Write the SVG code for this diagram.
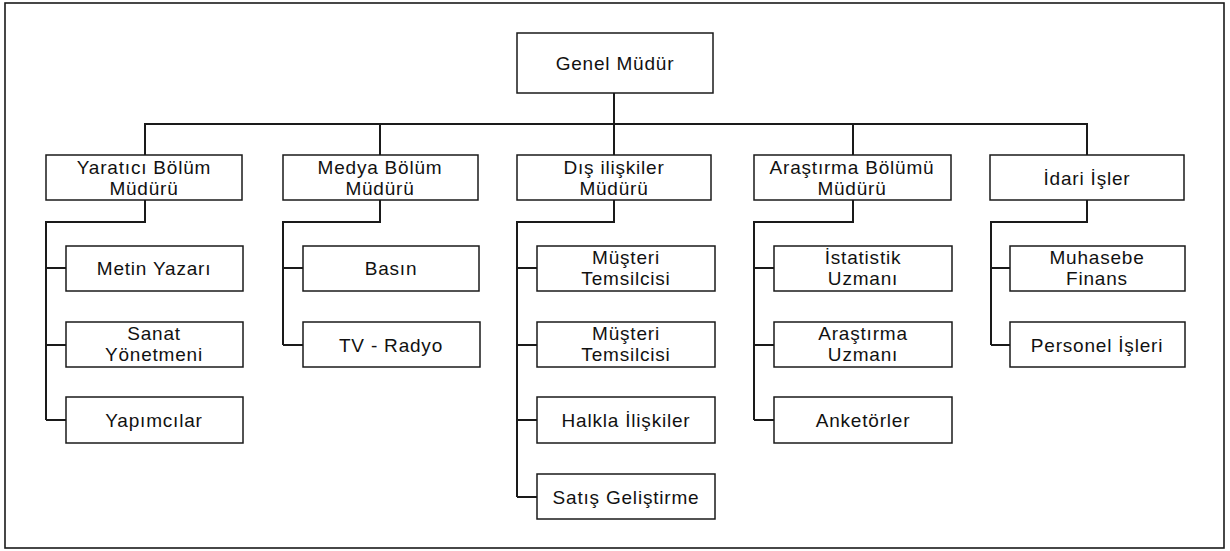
<svg xmlns="http://www.w3.org/2000/svg" width="1230" height="551" viewBox="0 0 1230 551">
<style>
.box{fill:#fff;stroke:#1a1a1a;stroke-width:1.5}
.frame{fill:#fff;stroke:#1a1a1a;stroke-width:1.6}
.con{fill:none;stroke:#1a1a1a;stroke-width:2}
text{font-family:"Liberation Sans","Noto Sans",sans-serif;font-size:19px;letter-spacing:0.8px;fill:#111;text-anchor:middle}
</style>
<rect class="frame" x="5" y="3" width="1219" height="545"/>
<g id="connectors">
<path class="con" d="M614,93V124M145,155V124H1087V155M380,124V155M614,124V155M853,124V155"/>
<path class="con" d="M145,200V222H46V420M46,268H66M46,345H66M46,420H66"/>
<path class="con" d="M380,200V222H283V345M283,268H303M283,345H303"/>
<path class="con" d="M614,200V222H517V497M517,268H537M517,345H537M517,420H537M517,497H537"/>
<path class="con" d="M853,200V222H754V420M754,268H774M754,345H774M754,420H774"/>
<path class="con" d="M1087,200V222H991V345M991,268H1010M991,345H1010"/>
</g>
<g id="genel"><rect class="box" x="517" y="33" width="196" height="60"/><text x="615" y="70">Genel Müdür</text></g>
<g id="yaratici"><rect class="box" x="46" y="155" width="196" height="45"/><text x="144" y="174">Yaratıcı Bölüm</text><text x="144" y="195">Müdürü</text></g>
<g id="medya"><rect class="box" x="283" y="155" width="195" height="45"/><text x="380" y="174">Medya Bölüm</text><text x="380" y="195">Müdürü</text></g>
<g id="dis"><rect class="box" x="517" y="155" width="194" height="45"/><text x="614" y="174">Dış ilişkiler</text><text x="614" y="195">Müdürü</text></g>
<g id="arastirma"><rect class="box" x="754" y="155" width="197" height="45"/><text x="852" y="174">Araştırma Bölümü</text><text x="852" y="195">Müdürü</text></g>
<g id="idari"><rect class="box" x="990" y="155" width="194" height="45"/><text x="1087" y="185">İdari İşler</text></g>
<g id="metin"><rect class="box" x="66" y="246" width="177" height="45"/><text x="154" y="275">Metin Yazarı</text></g>
<g id="sanat"><rect class="box" x="66" y="322" width="177" height="45"/><text x="154" y="340">Sanat</text><text x="154" y="361">Yönetmeni</text></g>
<g id="yapimcilar"><rect class="box" x="66" y="397" width="177" height="46"/><text x="154" y="427">Yapımcılar</text></g>
<g id="basin"><rect class="box" x="303" y="246" width="176" height="45"/><text x="391" y="275">Basın</text></g>
<g id="tv"><rect class="box" x="303" y="322" width="177" height="45"/><text x="391" y="352">TV - Radyo</text></g>
<g id="musteri1"><rect class="box" x="537" y="246" width="178" height="45"/><text x="626" y="264">Müşteri</text><text x="626" y="285">Temsilcisi</text></g>
<g id="musteri2"><rect class="box" x="537" y="322" width="178" height="45"/><text x="626" y="340">Müşteri</text><text x="626" y="361">Temsilcisi</text></g>
<g id="halkla"><rect class="box" x="537" y="397" width="178" height="46"/><text x="626" y="427">Halkla İlişkiler</text></g>
<g id="satis"><rect class="box" x="537" y="474" width="178" height="45"/><text x="626" y="504">Satış Geliştirme</text></g>
<g id="istatistik"><rect class="box" x="774" y="246" width="178" height="45"/><text x="863" y="264">İstatistik</text><text x="863" y="285">Uzmanı</text></g>
<g id="uzman"><rect class="box" x="774" y="322" width="178" height="45"/><text x="863" y="340">Araştırma</text><text x="863" y="361">Uzmanı</text></g>
<g id="anketorler"><rect class="box" x="774" y="397" width="178" height="46"/><text x="863" y="427">Anketörler</text></g>
<g id="muhasebe"><rect class="box" x="1010" y="246" width="175" height="45"/><text x="1097" y="264">Muhasebe</text><text x="1097" y="285">Finans</text></g>
<g id="personel"><rect class="box" x="1010" y="322" width="175" height="45"/><text x="1097" y="352">Personel İşleri</text></g>
</svg>
